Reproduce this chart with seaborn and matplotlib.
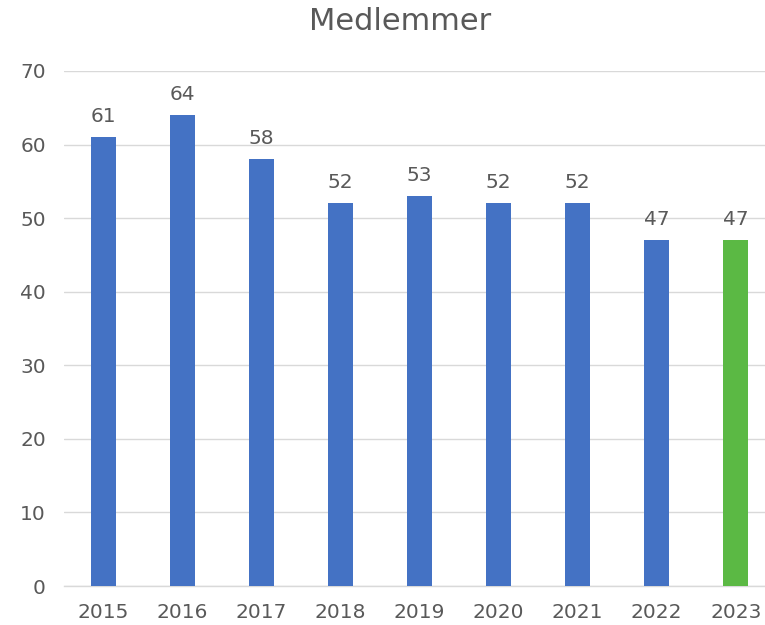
import matplotlib
matplotlib.use("Agg")
import matplotlib.pyplot as plt
import seaborn as sns
import pandas as pd

# data
years = ['2015', '2016', '2017', '2018', '2019', '2020', '2021', '2022', '2023']
members = [61, 64, 58, 52, 53, 52, 52, 47, 47]
bar_colors = ['#4472C4'] * 8 + ['#5BB944']

df = pd.DataFrame({'year': years, 'members': members})

sns.set_style('white')
plt.rcParams['font.family'] = ['DejaVu Sans']
text_color = '#595959'

fig = plt.figure(figsize=(7.65, 6.25), dpi=100)
ax = fig.add_axes([64 / 765, 1 - 586 / 625, (765 - 64) / 765, (586 - 71) / 625])

sns.barplot(data=df, x='year', y='members', hue='year', palette=bar_colors,
            legend=False, width=0.316, saturation=1, linewidth=0, ax=ax, zorder=3)

ax.set_ylim(0, 70)
ax.set_xlim(-0.5, 8.37)
ax.set_yticks(range(0, 71, 10))
ax.yaxis.grid(True, color='#D9D9D9', linewidth=1, zorder=0)
ax.set_axisbelow(True)
for s in ['top', 'right', 'left']:
    ax.spines[s].set_visible(False)
ax.spines['bottom'].set_color('#D9D9D9')
ax.spines['bottom'].set_linewidth(1)
ax.tick_params(axis='both', length=0, labelsize=14.5, colors=text_color)
ax.tick_params(axis='y', pad=13)
ax.tick_params(axis='x', pad=12)
ax.set_xlabel('')
ax.set_ylabel('')

# value labels
for i, v in enumerate(members):
    ax.annotate(str(v), (i, v), xytext=(0, 8), textcoords='offset points',
                ha='center', va='bottom', fontsize=14.5, color=text_color)

fig.text(400 / 765, 1 - 22 / 625, 'Medlemmer', ha='center', va='center',
         fontsize=22, color=text_color)

fig.savefig('out.png', dpi=100)
